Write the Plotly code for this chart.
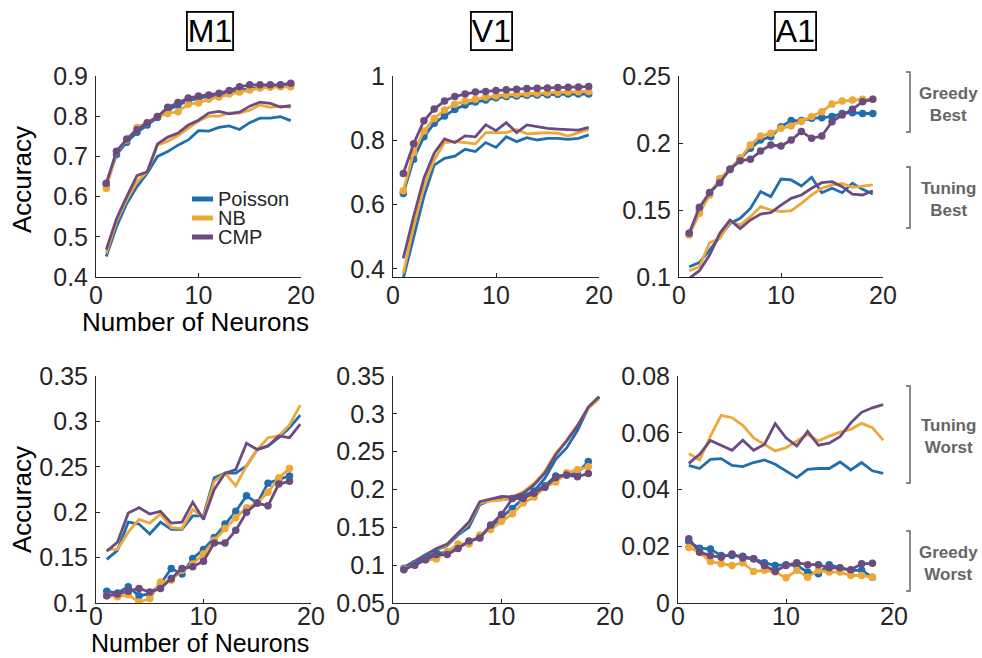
import plotly.graph_objects as go

W, H = 982, 658
FONT = "Liberation Sans"
AX = "#262626"
GRAY = "#666666"
COLORS = {"Poisson": "#1f6eb0", "NB": "#eea838", "CMP": "#6b4c80"}
MODELS = ["Poisson", "NB", "CMP"]

# ---------------- data ----------------
n_top = list(range(1, 20))
n_tuning_bottom = list(range(1, 20))
n_greedy_bottom = list(range(1, 19))

# M1 best
m1_greedy_best_poisson = [0.630, 0.705, 0.735, 0.760, 0.778, 0.797, 0.815, 0.828, 0.838, 0.845, 0.848, 0.852, 0.858, 0.865, 0.868, 0.872, 0.875, 0.877, 0.878]
m1_greedy_best_nb = [0.620, 0.712, 0.741, 0.772, 0.784, 0.799, 0.807, 0.811, 0.830, 0.833, 0.842, 0.848, 0.855, 0.860, 0.865, 0.870, 0.872, 0.873, 0.873]
m1_greedy_best_cmp = [0.633, 0.713, 0.743, 0.766, 0.784, 0.799, 0.822, 0.834, 0.845, 0.850, 0.853, 0.857, 0.864, 0.873, 0.878, 0.878, 0.878, 0.878, 0.882]
m1_tuning_best_poisson = [0.451, 0.525, 0.583, 0.625, 0.658, 0.700, 0.712, 0.728, 0.741, 0.764, 0.763, 0.772, 0.776, 0.767, 0.784, 0.795, 0.795, 0.799, 0.789]
m1_tuning_best_nb = [0.459, 0.538, 0.592, 0.637, 0.662, 0.728, 0.738, 0.752, 0.770, 0.788, 0.800, 0.800, 0.808, 0.808, 0.815, 0.828, 0.822, 0.825, 0.822]
m1_tuning_best_cmp = [0.468, 0.545, 0.600, 0.652, 0.662, 0.731, 0.748, 0.758, 0.778, 0.790, 0.808, 0.812, 0.806, 0.810, 0.825, 0.835, 0.832, 0.823, 0.826]

# V1 best
v1_greedy_best_poisson = [0.635, 0.741, 0.811, 0.853, 0.876, 0.896, 0.910, 0.919, 0.925, 0.932, 0.936, 0.938, 0.940, 0.941, 0.942, 0.943, 0.944, 0.944, 0.944]
v1_greedy_best_nb = [0.643, 0.762, 0.829, 0.868, 0.894, 0.912, 0.922, 0.928, 0.934, 0.938, 0.941, 0.943, 0.945, 0.946, 0.948, 0.949, 0.950, 0.951, 0.952]
v1_greedy_best_cmp = [0.697, 0.789, 0.861, 0.897, 0.922, 0.936, 0.944, 0.950, 0.952, 0.955, 0.957, 0.959, 0.961, 0.962, 0.963, 0.964, 0.965, 0.966, 0.967]
v1_tuning_best_poisson = [0.371, 0.500, 0.625, 0.723, 0.744, 0.751, 0.772, 0.765, 0.793, 0.778, 0.811, 0.796, 0.808, 0.801, 0.806, 0.806, 0.803, 0.806, 0.817]
v1_tuning_best_nb = [0.386, 0.531, 0.656, 0.739, 0.793, 0.796, 0.793, 0.789, 0.824, 0.824, 0.824, 0.834, 0.820, 0.822, 0.824, 0.822, 0.813, 0.824, 0.834]
v1_tuning_best_cmp = [0.433, 0.563, 0.682, 0.760, 0.804, 0.793, 0.814, 0.811, 0.848, 0.830, 0.855, 0.824, 0.848, 0.842, 0.837, 0.835, 0.834, 0.832, 0.840]

# A1 best
a1_greedy_best_poisson = [0.1326, 0.1500, 0.1624, 0.1724, 0.1806, 0.1886, 0.1960, 0.2022, 0.2047, 0.2122, 0.2167, 0.2167, 0.2184, 0.2189, 0.2197, 0.2221, 0.2226, 0.2220, 0.2220]
a1_greedy_best_nb = [0.1313, 0.1475, 0.1612, 0.1736, 0.1803, 0.1886, 0.1985, 0.2052, 0.2072, 0.2110, 0.2127, 0.2160, 0.2197, 0.2234, 0.2291, 0.2313, 0.2321, 0.2326, 0.2326]
a1_greedy_best_cmp = [0.1326, 0.1520, 0.1630, 0.1704, 0.1803, 0.1868, 0.1878, 0.1940, 0.1985, 0.1978, 0.2022, 0.2085, 0.2035, 0.2052, 0.2159, 0.2209, 0.2251, 0.2308, 0.2326]
a1_tuning_best_poisson = [0.1077, 0.1107, 0.1201, 0.1301, 0.1400, 0.1438, 0.1512, 0.1637, 0.1600, 0.1731, 0.1724, 0.1679, 0.1744, 0.1629, 0.1662, 0.1629, 0.1699, 0.1654, 0.1619]
a1_tuning_best_nb = [0.1047, 0.1077, 0.1256, 0.1289, 0.1413, 0.1388, 0.1450, 0.1525, 0.1500, 0.1488, 0.1495, 0.1550, 0.1612, 0.1662, 0.1687, 0.1699, 0.1669, 0.1679, 0.1687]
a1_tuning_best_cmp = [0.0990, 0.1047, 0.1164, 0.1326, 0.1425, 0.1361, 0.1425, 0.1470, 0.1480, 0.1537, 0.1587, 0.1612, 0.1662, 0.1704, 0.1711, 0.1674, 0.1619, 0.1612, 0.1644]

# M1 worst
m1_tuning_worst_poisson = [0.148, 0.158, 0.189, 0.187, 0.176, 0.189, 0.181, 0.181, 0.196, 0.196, 0.238, 0.243, 0.243, 0.251, 0.269, 0.273, 0.282, 0.293, 0.307]
m1_tuning_worst_nb = [0.159, 0.159, 0.178, 0.192, 0.188, 0.198, 0.183, 0.182, 0.203, 0.194, 0.234, 0.243, 0.229, 0.251, 0.269, 0.282, 0.284, 0.296, 0.318]
m1_tuning_worst_cmp = [0.157, 0.167, 0.199, 0.205, 0.198, 0.201, 0.188, 0.189, 0.211, 0.192, 0.225, 0.243, 0.247, 0.276, 0.269, 0.273, 0.284, 0.282, 0.297]
m1_greedy_worst_poisson = [0.113, 0.111, 0.118, 0.108, 0.110, 0.121, 0.138, 0.132, 0.149, 0.159, 0.172, 0.187, 0.201, 0.218, 0.210, 0.232, 0.236, 0.240]
m1_greedy_worst_nb = [0.108, 0.107, 0.109, 0.101, 0.105, 0.123, 0.125, 0.136, 0.143, 0.154, 0.169, 0.182, 0.194, 0.205, 0.210, 0.222, 0.238, 0.248]
m1_greedy_worst_cmp = [0.108, 0.110, 0.113, 0.116, 0.112, 0.116, 0.127, 0.138, 0.140, 0.146, 0.166, 0.166, 0.180, 0.200, 0.210, 0.207, 0.231, 0.234]

# V1 worst
v1_tuning_worst_poisson = [0.097, 0.105, 0.113, 0.120, 0.126, 0.140, 0.150, 0.180, 0.186, 0.187, 0.188, 0.192, 0.198, 0.215, 0.240, 0.255, 0.278, 0.308, 0.322]
v1_tuning_worst_nb = [0.096, 0.104, 0.112, 0.121, 0.127, 0.142, 0.155, 0.182, 0.185, 0.186, 0.190, 0.197, 0.208, 0.224, 0.248, 0.265, 0.285, 0.307, 0.320]
v1_tuning_worst_cmp = [0.097, 0.105, 0.113, 0.122, 0.128, 0.143, 0.157, 0.184, 0.188, 0.191, 0.190, 0.195, 0.206, 0.222, 0.246, 0.264, 0.284, 0.309, 0.323]
v1_greedy_worst_poisson = [0.096, 0.102, 0.110, 0.116, 0.117, 0.124, 0.130, 0.137, 0.150, 0.163, 0.175, 0.188, 0.198, 0.205, 0.218, 0.219, 0.222, 0.237]
v1_greedy_worst_nb = [0.095, 0.100, 0.107, 0.108, 0.118, 0.128, 0.128, 0.140, 0.147, 0.158, 0.168, 0.182, 0.190, 0.203, 0.210, 0.222, 0.226, 0.230]
v1_greedy_worst_cmp = [0.094, 0.100, 0.107, 0.114, 0.114, 0.122, 0.132, 0.136, 0.153, 0.167, 0.188, 0.188, 0.195, 0.203, 0.216, 0.219, 0.217, 0.221]

# A1 worst
a1_tuning_worst_poisson = [0.0485, 0.0474, 0.0506, 0.0509, 0.0485, 0.0481, 0.0495, 0.0504, 0.0489, 0.0466, 0.0442, 0.0471, 0.0474, 0.0474, 0.0497, 0.0469, 0.0495, 0.0466, 0.0457]
a1_tuning_worst_nb = [0.0527, 0.0504, 0.0588, 0.0661, 0.0653, 0.0626, 0.0582, 0.0559, 0.0536, 0.0547, 0.0571, 0.0594, 0.0571, 0.0588, 0.0602, 0.0612, 0.0633, 0.0618, 0.0574]
a1_tuning_worst_cmp = [0.0492, 0.0524, 0.0573, 0.0556, 0.0538, 0.0574, 0.0538, 0.0559, 0.0632, 0.0582, 0.0553, 0.0605, 0.0556, 0.0563, 0.0586, 0.0635, 0.0672, 0.0688, 0.0699]
a1_greedy_worst_poisson = [0.0216, 0.0193, 0.0190, 0.0167, 0.0167, 0.0165, 0.0156, 0.0142, 0.0132, 0.0135, 0.0132, 0.0109, 0.0103, 0.0135, 0.0123, 0.0115, 0.0115, 0.0091]
a1_greedy_worst_nb = [0.0196, 0.0179, 0.0146, 0.0138, 0.0132, 0.0142, 0.0111, 0.0115, 0.0109, 0.0089, 0.0115, 0.0091, 0.0115, 0.0109, 0.0109, 0.0097, 0.0097, 0.0091]
a1_greedy_worst_cmp = [0.0226, 0.0179, 0.0167, 0.0161, 0.0173, 0.0159, 0.0156, 0.0132, 0.0112, 0.0132, 0.0142, 0.0135, 0.0135, 0.0124, 0.0124, 0.0117, 0.0138, 0.0140]

# tick labels
x_ticks = [0, 10, 20]
m1_top_ticks = [0.4, 0.5, 0.6, 0.7, 0.8, 0.9]
v1_top_ticks = [0.4, 0.6, 0.8, 1.0]
a1_top_ticks = [0.1, 0.15, 0.2, 0.25]
m1_bot_ticks = [0.1, 0.15, 0.2, 0.25, 0.3, 0.35]
v1_bot_ticks = [0.05, 0.1, 0.15, 0.2, 0.25, 0.3, 0.35]
a1_bot_ticks = [0, 0.02, 0.04, 0.06, 0.08]

region_titles = ["M1", "V1", "A1"]
model_labels = ["Poisson", "NB", "CMP"]

# ---------------- layout helpers ----------------
def px_x(p):
    return p / W

def px_y(p):
    return 1 - p / H

panels = [
    dict(box=(96, 301, 76, 277), yr=[0.4, 0.9], yt=m1_top_ticks, xs=-4,
         tun=[m1_tuning_best_poisson, m1_tuning_best_nb, m1_tuning_best_cmp],
         gre=[m1_greedy_best_poisson, m1_greedy_best_nb, m1_greedy_best_cmp], xt=n_top, xg=n_top),
    dict(box=(393, 599, 76, 277), yr=[0.375, 1.0], yt=v1_top_ticks, xs=-4,
         tun=[v1_tuning_best_poisson, v1_tuning_best_nb, v1_tuning_best_cmp],
         gre=[v1_greedy_best_poisson, v1_greedy_best_nb, v1_greedy_best_cmp], xt=n_top, xg=n_top),
    dict(box=(679, 883, 76, 277), yr=[0.1, 0.25], yt=a1_top_ticks, xs=-4,
         tun=[a1_tuning_best_poisson, a1_tuning_best_nb, a1_tuning_best_cmp],
         gre=[a1_greedy_best_poisson, a1_greedy_best_nb, a1_greedy_best_cmp], xt=n_top, xg=n_top),
    dict(box=(96, 311, 376, 603), yr=[0.1, 0.35], yt=m1_bot_ticks, xs=-9,
         tun=[m1_tuning_worst_poisson, m1_tuning_worst_nb, m1_tuning_worst_cmp],
         gre=[m1_greedy_worst_poisson, m1_greedy_worst_nb, m1_greedy_worst_cmp], xt=n_tuning_bottom, xg=n_greedy_bottom),
    dict(box=(393, 610, 376, 603), yr=[0.05, 0.35], yt=v1_bot_ticks, xs=-9,
         tun=[v1_tuning_worst_poisson, v1_tuning_worst_nb, v1_tuning_worst_cmp],
         gre=[v1_greedy_worst_poisson, v1_greedy_worst_nb, v1_greedy_worst_cmp], xt=n_tuning_bottom, xg=n_greedy_bottom),
    dict(box=(678, 894, 376, 603), yr=[0.0, 0.08], yt=a1_bot_ticks, xs=-9,
         tun=[a1_tuning_worst_poisson, a1_tuning_worst_nb, a1_tuning_worst_cmp],
         gre=[a1_greedy_worst_poisson, a1_greedy_worst_nb, a1_greedy_worst_cmp], xt=n_tuning_bottom, xg=n_greedy_bottom),
]

fig = go.Figure()
layout = dict(
    width=W, height=H, margin=dict(l=0, r=0, t=0, b=0, autoexpand=False),
    paper_bgcolor="white", plot_bgcolor="white", showlegend=False,
    font=dict(family=FONT, color=AX),
)

def fmt(v):
    return "%g" % v

for i, p in enumerate(panels, start=1):
    xa = "xaxis" if i == 1 else f"xaxis{i}"
    ya = "yaxis" if i == 1 else f"yaxis{i}"
    xref = "x" if i == 1 else f"x{i}"
    yref = "y" if i == 1 else f"y{i}"
    x0, x1, y0, y1 = p["box"]
    common = dict(showline=True, linecolor=AX, linewidth=1, ticks="inside", ticklen=4,
                  tickcolor=AX, tickwidth=1, showgrid=False, zeroline=False, automargin=False,
                  tickfont=dict(family=FONT, size=25, color=AX))
    layout[xa] = dict(domain=[px_x(x0), px_x(x1)], range=[0, 20], anchor=yref,
                      tickvals=x_ticks, ticktext=[str(t) for t in x_ticks],
                      ticklabelstandoff=p["xs"], **common)
    layout[ya] = dict(domain=[px_y(y1), px_y(y0)], range=p["yr"], anchor=xref,
                      tickvals=p["yt"], ticktext=[fmt(t) for t in p["yt"]],
                      ticklabelstandoff=2, **common)
    for m, ys in zip(MODELS, p["tun"]):
        fig.add_trace(go.Scatter(x=p["xt"], y=ys, mode="lines", name=m,
                                 line=dict(color=COLORS[m], width=2.8),
                                 xaxis=xref, yaxis=yref, hoverinfo="skip"))
    for m, ys in zip(MODELS, p["gre"]):
        fig.add_trace(go.Scatter(x=p["xg"], y=ys, mode="lines+markers", name=m,
                                 line=dict(color=COLORS[m], width=2.8),
                                 marker=dict(color=COLORS[m], size=7.5),
                                 xaxis=xref, yaxis=yref, hoverinfo="skip"))

annotations = []
shapes = []

# region titles in boxes
for t, cx in zip(region_titles, [210, 491, 795]):
    annotations.append(dict(text=t, x=px_x(cx), y=px_y(31), xref="paper", yref="paper",
                            showarrow=False, font=dict(family=FONT, size=32, color="black"),
                            bordercolor="black", borderwidth=1.8, borderpad=0,
                            xanchor="center", yanchor="middle"))

# axis titles
for cy in [180, 500]:
    annotations.append(dict(text="Accuracy", x=px_x(22), y=px_y(cy), xref="paper", yref="paper",
                            showarrow=False, textangle=-90, font=dict(family=FONT, size=26, color="black"),
                            xanchor="center", yanchor="middle"))
for cx, cy, fs in [(195, 322, 26), (200, 643, 25)]:
    annotations.append(dict(text="Number of Neurons", x=px_x(cx), y=px_y(cy), xref="paper", yref="paper",
                            showarrow=False, font=dict(family=FONT, size=fs, color="black"),
                            xanchor="center", yanchor="middle"))

# legend (manual, inside first panel)
for k, (lab, m) in enumerate(zip(model_labels, MODELS)):
    ly = 199 + 19 * k
    shapes.append(dict(type="line", xref="paper", yref="paper", x0=px_x(192), x1=px_x(213),
                       y0=px_y(ly), y1=px_y(ly), line=dict(color=COLORS[m], width=5)))
    annotations.append(dict(text=lab, x=px_x(216), y=px_y(ly), xref="paper", yref="paper",
                            showarrow=False, font=dict(family=FONT, size=20, color=AX),
                            xanchor="left", yanchor="middle"))

# group brackets on the right
groups = [("Greedy<br>Best", 72, 132), ("Tuning<br>Best", 167, 228),
          ("Tuning<br>Worst", 386, 483), ("Greedy<br>Worst", 531, 591)]
for lab, ya0, ya1 in groups:
    path = "M {a},{b} L {c},{b} L {c},{d} L {a},{d}".format(
        a=px_x(906), c=px_x(910), b=px_y(ya0), d=px_y(ya1))
    shapes.append(dict(type="path", xref="paper", yref="paper", path=path,
                       line=dict(color=GRAY, width=1.5)))
    annotations.append(dict(text="<b>" + lab + "</b>", x=px_x(948), y=px_y((ya0 + ya1) / 2 + 2),
                            xref="paper", yref="paper", showarrow=False,
                            font=dict(family=FONT, size=17, color=GRAY),
                            xanchor="center", yanchor="middle"))

layout["annotations"] = annotations
layout["shapes"] = shapes
fig.update_layout(**layout)
fig.write_html("out.html", config={"displayModeBar": False},
               post_script="document.body.style.margin='0';document.body.style.overflow='hidden';")
